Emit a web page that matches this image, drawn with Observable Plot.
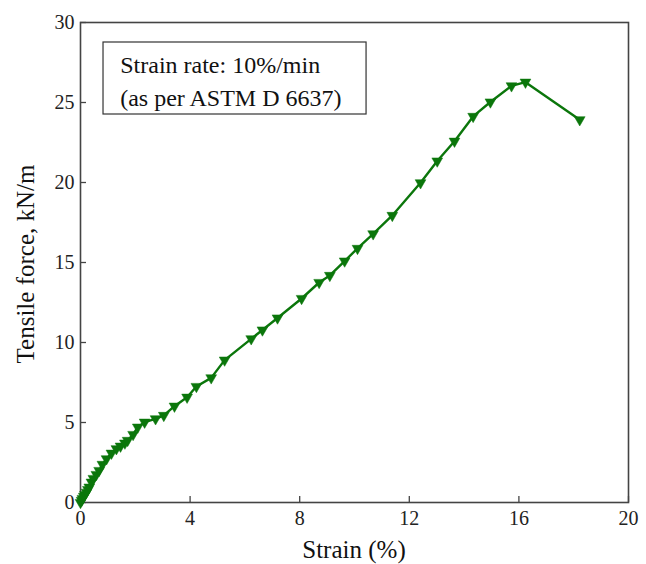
<!DOCTYPE html>
<html>
<head>
<meta charset="utf-8">
<script src="https://cdn.jsdelivr.net/npm/d3@7"></script>
<script src="https://cdn.jsdelivr.net/npm/@observablehq/plot@0.6"></script>
<style>
  html, body { margin: 0; padding: 0; background: #fff; }
  #chart svg { display: block; }
  #chart svg text { font-family: 'Liberation Serif', 'Times New Roman', serif; }
</style>
</head>
<body>
<div id="chart"></div>
<script>
const strain = [0, 0.04, 0.07, 0.12, 0.16, 0.22, 0.27, 0.32, 0.40, 0.47, 0.58, 0.68, 0.80, 0.95, 1.13, 1.31, 1.46, 1.62, 1.72, 1.92, 2.09, 2.34, 2.74, 3.04, 3.43, 3.89, 4.23, 4.77, 5.26, 6.23, 6.64, 7.19, 8.07, 8.71, 9.10, 9.64, 10.11, 10.68, 11.38, 12.41, 13.02, 13.65, 14.33, 14.96, 15.73, 16.24, 18.22];
const force  = [0, 0.13, 0.25, 0.38, 0.50, 0.64, 0.81, 0.96, 1.27, 1.50, 1.75, 2.00, 2.38, 2.73, 3.08, 3.36, 3.52, 3.71, 3.88, 4.25, 4.71, 5.02, 5.23, 5.44, 6.02, 6.58, 7.25, 7.79, 8.90, 10.23, 10.78, 11.53, 12.75, 13.75, 14.19, 15.09, 15.88, 16.79, 17.94, 19.98, 21.34, 22.58, 24.13, 25.03, 26.04, 26.27, 23.92];
const xTicks = [0, 4, 8, 12, 16, 20];
const yTicks = [0, 5, 10, 15, 20, 25, 30];
const noteLines = ["Strain rate: 10%/min", "(as per ASTM D 6637)"];

const data = strain.map((s, i) => ({s, f: force[i]}));
const green = "#0b760b";
const font = "'Liberation Serif', 'Times New Roman', serif";

const chart = Plot.plot({
  width: 646,
  height: 564,
  marginLeft: 80,
  marginRight: 18,
  marginTop: 22,
  marginBottom: 62,
  style: {background: "#fff", color: "#222"},
  x: {domain: [0, 20]},
  y: {domain: [0, 30]},
  marks: [
    Plot.axisX({ticks: xTicks, tickSize: 0, tickPadding: 8, fontSize: 20, label: null}),
    Plot.axisX({ticks: xTicks, tickSize: -6, tickFormat: () => "", label: null, stroke: "#444", strokeWidth: 1.3}),
    Plot.axisY({ticks: yTicks, tickSize: 0, tickPadding: 6, fontSize: 20, label: null}),
    Plot.axisY({ticks: yTicks, tickSize: -6, tickFormat: () => "", label: null, stroke: "#444", strokeWidth: 1.3}),
    Plot.frame({stroke: "#444", strokeWidth: 1.6}),
    Plot.rect([0], {x1: 0.84, x2: 10.44, y1: 24.25, y2: 28.75, stroke: "#333", strokeWidth: 1.2, fill: "none"}),
    Plot.text(noteLines, {x: 1.45, y: (d, i) => 27.3 - i * 2.05, text: d => d, textAnchor: "start", fontSize: 24, fill: "#111"}),
    Plot.line(data, {x: "s", y: "f", stroke: green, strokeWidth: 2.4}),
    Plot.dot(data, {x: "s", y: "f", symbol: "triangle", rotate: 180, r: 4, fill: green, stroke: green, strokeWidth: 0.5})
  ]
});

const svg = d3.select(chart);
svg.append("text")
  .attr("x", 354).attr("y", 558)
  .attr("text-anchor", "middle")
  .style("font-family", font).style("font-size", "25px").attr("fill", "#111")
  .text("Strain (%)");
svg.append("text")
  .attr("transform", "translate(34,264) rotate(-90)")
  .attr("text-anchor", "middle")
  .style("font-family", font).style("font-size", "25px").attr("fill", "#111")
  .text("Tensile force, kN/m");

document.getElementById("chart").appendChild(chart);
</script>
</body>
</html>
